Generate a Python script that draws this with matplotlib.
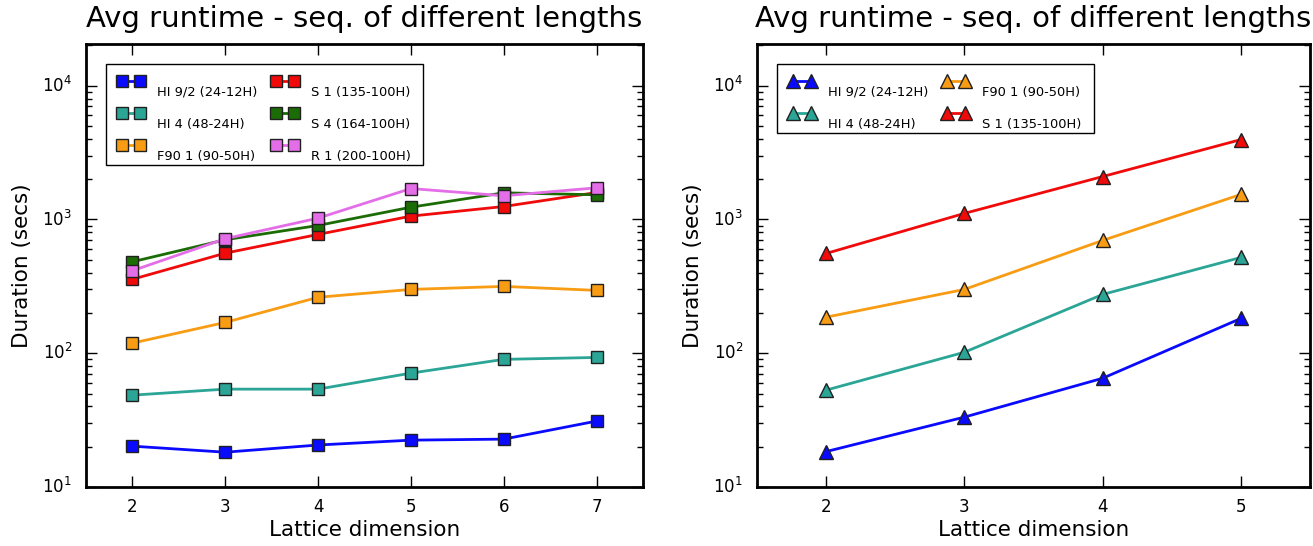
import matplotlib
matplotlib.use("Agg")
import matplotlib.pyplot as plt

plt.style.use("classic")
plt.rcParams["font.family"] = ["DejaVu Sans"]
plt.rcParams["figure.facecolor"] = "white"
plt.rcParams["savefig.facecolor"] = "white"

# Left panel: square markers, dimensions 2..7
dims_left = [2, 3, 4, 5, 6, 7]
hi92_left = [20.2, 18.2, 20.6, 22.4, 22.8, 31.1]
hi4_left = [48.6, 53.9, 53.9, 71, 90, 93]
f90_left = [119, 170, 262, 300, 316, 295]
s1_left = [357, 560, 773, 1059, 1250, 1590]
s4_left = [483, 705, 902, 1235, 1582, 1530]
r1_left = [414, 718, 1023, 1703, 1503, 1725]

# Right panel: triangle markers, dimensions 2..5
dims_right = [2, 3, 4, 5]
hi92_right = [18.4, 33.3, 65, 182]
hi4_right = [53, 101.7, 275, 520]
f90_right = [186, 300, 697, 1538]
s1_right = [557, 1110, 2093, 3954]

labels = {
    "hi92": "HI 9/2 (24-12H)",
    "hi4": "HI 4 (48-24H)",
    "f90": "F90 1 (90-50H)",
    "s1": "S 1 (135-100H)",
    "s4": "S 4 (164-100H)",
    "r1": "R 1 (200-100H)",
}
colors = {
    "hi92": "#0a0aff",
    "hi4": "#2aa596",
    "f90": "#f89c14",
    "s1": "#f00a0a",
    "s4": "#1c6c06",
    "r1": "#e46ee8",
}

title = "Avg runtime - seq. of different lengths"

fig = plt.figure(figsize=(13.13, 5.46), dpi=100)
ax1 = fig.add_axes([86 / 1313, 1 - 487 / 546, (643 - 86) / 1313, (487 - 44) / 546])
ax2 = fig.add_axes([757 / 1313, 1 - 487 / 546, (1310 - 757) / 1313, (487 - 44) / 546])

line_kw = dict(linewidth=2, markeredgecolor="#202020", markeredgewidth=1)

for key, vals in [("hi92", hi92_left), ("hi4", hi4_left), ("f90", f90_left),
                  ("s1", s1_left), ("s4", s4_left), ("r1", r1_left)]:
    ax1.plot(dims_left, vals, marker="s", markersize=8.5, color=colors[key],
             label=labels[key], **line_kw)

for key, vals in [("hi92", hi92_right), ("hi4", hi4_right), ("f90", f90_right),
                  ("s1", s1_right)]:
    ax2.plot(dims_right, vals, marker="^", markersize=9.5, color=colors[key],
             label=labels[key], **line_kw)

for ax, xticks, xlim in [(ax1, dims_left, (1.5, 7.5)), (ax2, dims_right, (1.5, 5.5))]:
    ax.set_yscale("log")
    ax.set_ylim(10, 2.05e4)
    ax.set_xlim(*xlim)
    ax.set_xticks(xticks)
    ax.set_title(title, fontsize=21, pad=12)
    ax.set_xlabel("Lattice dimension", fontsize=15.5, labelpad=3)
    ax.set_ylabel("Duration (secs)", fontsize=15.5, labelpad=7)
    ax.tick_params(axis="both", which="major", labelsize=12, length=8, width=1,
                   direction="in", top=True, right=True, pad=10)
    ax.tick_params(axis="x", which="major", pad=8)
    ax.tick_params(axis="both", which="minor", length=4, width=1,
                   direction="in", top=True, right=True)
    for sp in ax.spines.values():
        sp.set_linewidth(2)
    leg = ax.legend(loc="upper left", ncol=2, numpoints=2, fontsize=9.4,
                    frameon=True, fancybox=False, labelspacing=1.45,
                    handlelength=2.0, handletextpad=1.0, columnspacing=1.1,
                    borderpad=0.95, borderaxespad=1.5)
    leg.get_frame().set_linewidth(1)
    # legend labels sit slightly below their handles
    for t in leg.get_texts():
        t.set_va("top")

fig.savefig("out.png", dpi=100)
